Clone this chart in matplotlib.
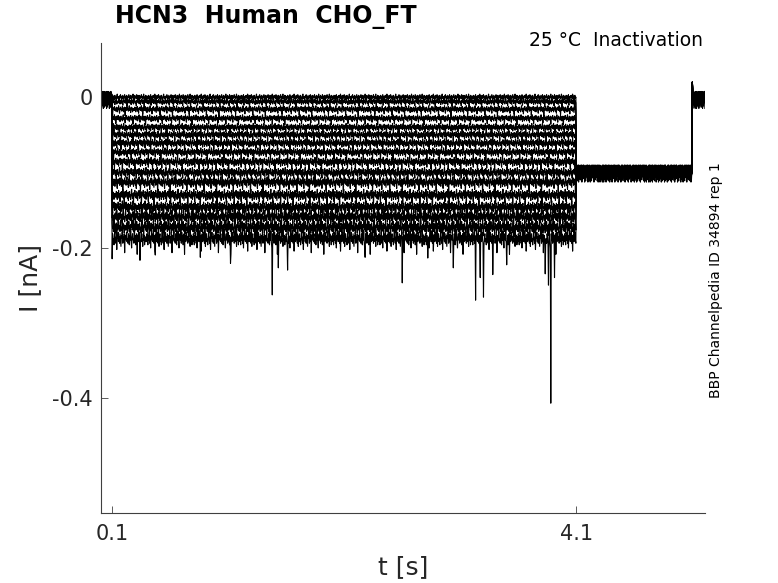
import numpy as np
import matplotlib.pyplot as plt

plt.rcParams['font.family'] = ['DejaVu Sans']
plt.rcParams['axes.unicode_minus'] = False

# protocol timing (s)
t_start = 0.005
t_on = 0.1
t_off = 4.1
t_tail = 5.1
t_end = 5.21
dt = 0.004

# current of each sweep during the test step (nA)
step_levels = [0.000, -0.006, -0.016, -0.028, -0.040, -0.050, -0.061, -0.073,
               -0.086, -0.100, -0.113, -0.130, -0.146, -0.159, -0.173, -0.188]
noise_scale = [0.8, 0.8, 0.9, 0.9, 1.0, 1.0, 1.1, 1.1,
               1.2, 1.3, 1.4, 1.5, 1.6, 1.7, 1.9, 2.1]
# where each sweep starts in the recorded noise snippet
noise_shift = [0, 37, 71, 13, 59, 88, 24, 46, 92, 5, 66, 31, 79, 18, 53, 97]
tail_noise_scale = 1.5

holding_level = 0.0
tail_level = -0.098
end_level = 0.0
end_spike = 0.02

# recorded baseline noise (pA)
noise_pa = [1, -2, 3, 0, -4, 2, -1, 4, -3, 1, -6, 2, 0, 3, -2, -1, 5, -3, 2, -8,
            1, 3, -2, 0, 4, -1, -3, 2, -5, 1, 3, -2, 0, -4, 2, 5, -1, -3, 1, -7,
            2, 0, 4, -2, 1, -3, 3, -1, -5, 2, 0, 4, -3, 1, -2, 3, -9, 1, 2, -1,
            4, -2, 0, -3, 3, 1, -4, 2, -1, 5, -2, -6, 1, 3, -1, 0, -3, 4, -2, 2,
            -4, 1, 3, -10, 2, 0, -2, 4, -1, 1, -3, 2, 5, -2, 0, -5, 3, -1, 2, -4]

# large downward events on the deepest sweep
event_t = [0.10, 0.34, 0.47, 0.86, 1.12, 1.48, 1.53, 1.61, 2.28, 2.60, 2.82,
           3.04, 3.23, 3.27, 3.30, 3.38, 3.50, 3.83, 3.86, 3.88, 3.91]
event_i = [-0.215, -0.217, -0.210, -0.213, -0.221, -0.263, -0.227, -0.230, -0.213,
           -0.247, -0.214, -0.227, -0.270, -0.240, -0.266, -0.236, -0.223, -0.235,
           -0.250, -0.407, -0.240]

# small dip in the holding segment
hold_dip_t = 0.02
hold_dip_i = -0.012

fig = plt.figure(figsize=(7.78, 5.83), dpi=100)
ax = fig.add_axes([0.1298, 0.1201, 0.7764, 0.8062])

t = np.arange(t_start, t_end, dt)
noise = np.resize(np.array(noise_pa) * 1e-3, len(t))
step = (t >= t_on) & (t < t_off)
tail = (t >= t_off) & (t < t_tail)
i_end = np.searchsorted(t, t_tail)

for k, lvl in enumerate(step_levels):
    y = np.full_like(t, holding_level)
    y[step] = lvl
    y[tail] = tail_level
    y[t >= t_tail] = end_level
    sc = np.where(step, noise_scale[k], tail_noise_scale)
    y = y + np.roll(noise, noise_shift[k]) * sc
    y[i_end] = end_spike
    if k == 0:
        y[np.searchsorted(t, hold_dip_t)] = hold_dip_i
    if k == len(step_levels) - 1:
        for et, ei in zip(event_t, event_i):
            y[np.searchsorted(t, et)] = ei
    ax.plot(t, y, color='k', lw=0.8)

ax.set_xlim(t_start, t_end)
ax.set_ylim(-0.553, 0.072)
ax.set_xticks([0.1, 4.1])
ax.set_xticklabels(['0.1', '4.1'])
ax.set_yticks([-0.4, -0.2, 0])
ax.set_yticklabels(['-0.4', '-0.2', '0'])

for s in ['top', 'right']:
    ax.spines[s].set_visible(False)
for s in ['left', 'bottom']:
    ax.spines[s].set_color('#404040')
    ax.spines[s].set_linewidth(0.8)
ax.tick_params(direction='in', length=5, width=0.6, color='#404040',
               labelsize=15, labelcolor='#262626')
ax.tick_params(axis='x', pad=8)
ax.tick_params(axis='y', pad=6)

ax.set_xlabel('t [s]', fontsize=18, color='#262626')
ax.xaxis.set_label_coords(0.5, -0.115)
ax.xaxis.label.set_va('center')
ax.set_ylabel('I [nA]', fontsize=18, color='#262626')
ax.yaxis.set_label_coords(-0.117, 0.5)
ax.yaxis.label.set_va('center')

fig.text(0.148, 0.971, 'HCN3  Human  CHO_FT', fontsize=17, fontweight='bold',
         va='center', ha='left')
fig.text(0.903, 0.930, '25 °C  Inactivation', fontsize=13.5, va='center', ha='right')
fig.text(0.920, 0.520, 'BBP Channelpedia ID 34894 rep 1', fontsize=10,
         rotation=90, va='center', ha='center')

fig.savefig('out.png', dpi=100)
